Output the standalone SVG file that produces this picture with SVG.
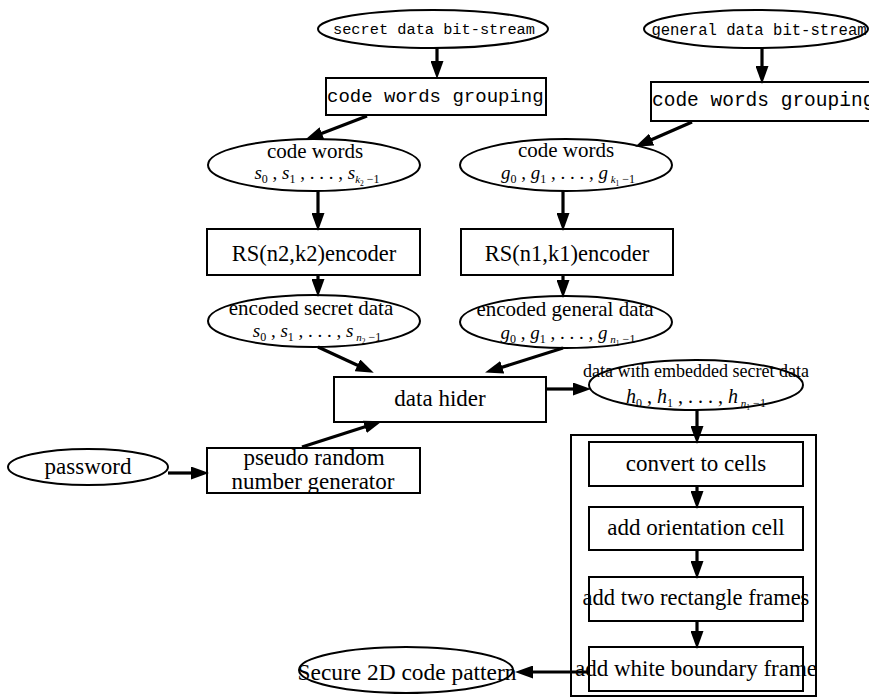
<svg xmlns="http://www.w3.org/2000/svg" width="869" height="698" viewBox="0 0 869 698">
<defs>
<marker id="ah" markerUnits="userSpaceOnUse" markerWidth="18" markerHeight="13" refX="6" refY="6.5" orient="auto">
<path d="M0,0 L18,6.5 L0,13 z" fill="#000"/>
</marker>
<style>
.n{fill:#fff;stroke:#000;stroke-width:2}
.t{font-family:"Liberation Serif","Times New Roman",serif;fill:#000;text-anchor:middle}
.m{font-family:"Liberation Mono","Courier New",monospace;fill:#000}
.i{font-style:italic}
.c line{stroke:#000;stroke-width:3.2;marker-end:url(#ah)}
</style>
</defs>
<rect width="869" height="698" fill="#fff"/>

<g id="secret-bitstream"><ellipse class="n" cx="433" cy="29" rx="115" ry="19"/><text class="m" x="434" y="34" font-size="15.3" text-anchor="middle">secret data bit-stream</text></g>
<g id="general-bitstream"><ellipse class="n" cx="756" cy="29" rx="112" ry="19"/><text class="m" x="759" y="35" font-size="15.6" text-anchor="middle">general data bit-stream</text></g>

<g id="grouping-secret"><rect class="n" x="326" y="78" width="220" height="37"/><text class="m" x="327" y="102" font-size="19">code words grouping</text></g>
<g id="grouping-general"><rect class="n" x="651" y="82" width="230" height="39"/><text class="m" x="652" y="106" font-size="19.5">code words grouping</text></g>

<g id="codewords-s"><ellipse class="n" cx="314" cy="165" rx="106" ry="26"/>
<text class="t" x="315" y="158" font-size="21">code words</text>
<text class="t" x="317" y="179" font-size="19"><tspan class="i">s</tspan><tspan font-size="12" dy="4">0</tspan><tspan dy="-4"> , </tspan><tspan class="i">s</tspan><tspan font-size="12" dy="4">1</tspan><tspan dy="-4"> , . . . , </tspan><tspan class="i">s</tspan><tspan font-size="11" dy="4" class="i">k</tspan><tspan font-size="7.5" dy="3">2</tspan><tspan font-size="12" dy="-3"> −1</tspan></text></g>
<g id="codewords-g"><ellipse class="n" cx="566" cy="165" rx="106" ry="26"/>
<text class="t" x="566" y="157" font-size="21">code words</text>
<text class="t" x="568" y="179" font-size="19"><tspan class="i">g</tspan><tspan font-size="12" dy="4">0</tspan><tspan dy="-4"> , </tspan><tspan class="i">g</tspan><tspan font-size="12" dy="4">1</tspan><tspan dy="-4"> , . . . , </tspan><tspan class="i">g</tspan><tspan font-size="11" dy="4" class="i"> k</tspan><tspan font-size="7.5" dy="3">1</tspan><tspan font-size="12" dy="-3"> −1</tspan></text></g>

<g id="rs-n2k2"><rect class="n" x="207" y="229" width="213" height="46"/><text class="t" x="314" y="261" font-size="22.5">RS(n2,k2)encoder</text></g>
<g id="rs-n1k1"><rect class="n" x="461" y="229" width="212" height="46"/><text class="t" x="567" y="261" font-size="22.5">RS(n1,k1)encoder</text></g>

<g id="encoded-secret"><ellipse class="n" cx="314" cy="321" rx="106" ry="26"/>
<text class="t" x="311" y="315" font-size="21">encoded secret data</text>
<text class="t" x="317" y="337" font-size="19"><tspan class="i">s</tspan><tspan font-size="12" dy="4">0</tspan><tspan dy="-4"> , </tspan><tspan class="i">s</tspan><tspan font-size="12" dy="4">1</tspan><tspan dy="-4"> , . . . , </tspan><tspan class="i">s</tspan><tspan font-size="11" dy="4" class="i"> n</tspan><tspan font-size="7.5" dy="3">2</tspan><tspan font-size="12" dy="-3"> −1</tspan></text></g>
<g id="encoded-general"><ellipse class="n" cx="566" cy="322" rx="106" ry="26"/>
<text class="t" x="565" y="316" font-size="21">encoded general data</text>
<text class="t" x="568" y="339" font-size="19"><tspan class="i">g</tspan><tspan font-size="12" dy="4">0</tspan><tspan dy="-4"> , </tspan><tspan class="i">g</tspan><tspan font-size="12" dy="4">1</tspan><tspan dy="-4"> , . . . , </tspan><tspan class="i">g</tspan><tspan font-size="11" dy="4" class="i"> n</tspan><tspan font-size="7.5" dy="3">1</tspan><tspan font-size="12" dy="-3"> −1</tspan></text></g>

<g id="data-hider"><rect class="n" x="334" y="377" width="212" height="45"/><text class="t" x="440" y="406" font-size="23">data hider</text></g>

<g id="embedded-data"><ellipse class="n" cx="696" cy="385" rx="107" ry="25"/>
<text class="t" x="696" y="377" font-size="18">data with embedded secret data</text>
<text class="t" x="696" y="403" font-size="20"><tspan class="i">h</tspan><tspan font-size="12" dy="4">0</tspan><tspan dy="-4"> , </tspan><tspan class="i">h</tspan><tspan font-size="12" dy="4">1</tspan><tspan dy="-4"> , . . . , </tspan><tspan class="i">h</tspan><tspan font-size="11" dy="4" class="i"> n</tspan><tspan font-size="7.5" dy="3">1</tspan><tspan font-size="12" dy="-3"> −1</tspan></text></g>

<g id="password"><ellipse class="n" cx="88" cy="467" rx="80" ry="18"/><text class="t" x="88" y="474" font-size="23">password</text></g>
<g id="prng"><rect class="n" x="207" y="448" width="213" height="45"/><text class="t" x="314" y="465" font-size="23">pseudo random</text><text class="t" x="313" y="489" font-size="23">number generator</text></g>

<g id="encoder-frame"><rect x="571" y="435" width="245" height="261" fill="none" stroke="#000" stroke-width="2"/></g>
<g id="convert-cells"><rect class="n" x="589" y="442" width="214" height="44"/><text class="t" x="696" y="471" font-size="23">convert to cells</text></g>
<g id="orientation-cell"><rect class="n" x="589" y="507" width="214" height="43"/><text class="t" x="696" y="535" font-size="23">add orientation cell</text></g>
<g id="rect-frames"><rect class="n" x="589" y="577" width="214" height="44"/><text class="t" x="696" y="605" font-size="22.5">add two rectangle frames</text></g>
<g id="white-frame"><rect class="n" x="589" y="647" width="214" height="44"/><text class="t" x="696" y="676" font-size="23">add white boundary frame</text></g>

<g id="secure-pattern"><ellipse class="n" cx="406" cy="670" rx="107" ry="23"/><text class="t" x="407" y="680" font-size="23.4">Secure 2D code pattern</text></g>

<g id="connectors" class="c">
<line x1="437" y1="48" x2="437" y2="67"/>
<line x1="762" y1="48" x2="762" y2="72"/>
<line x1="367" y1="116" x2="316.3" y2="135.4"/>
<line x1="692" y1="122" x2="646.2" y2="142"/>
<line x1="318" y1="191" x2="318" y2="219"/>
<line x1="563" y1="191" x2="563" y2="219"/>
<line x1="318" y1="275" x2="318" y2="285"/>
<line x1="563" y1="275" x2="563" y2="286"/>
<line x1="318" y1="347" x2="362.9" y2="367.8"/>
<line x1="563" y1="348" x2="496.5" y2="369"/>
<line x1="302" y1="447" x2="370.5" y2="425"/>
<line x1="168" y1="473" x2="197" y2="473"/>
<line x1="547" y1="389" x2="579" y2="389"/>
<line x1="697" y1="410" x2="697" y2="432"/>
<line x1="697" y1="486" x2="697" y2="497"/>
<line x1="697" y1="550" x2="697" y2="567"/>
<line x1="697" y1="621" x2="697" y2="637"/>
<line x1="589" y1="672" x2="527" y2="672"/>
</g>
</svg>
